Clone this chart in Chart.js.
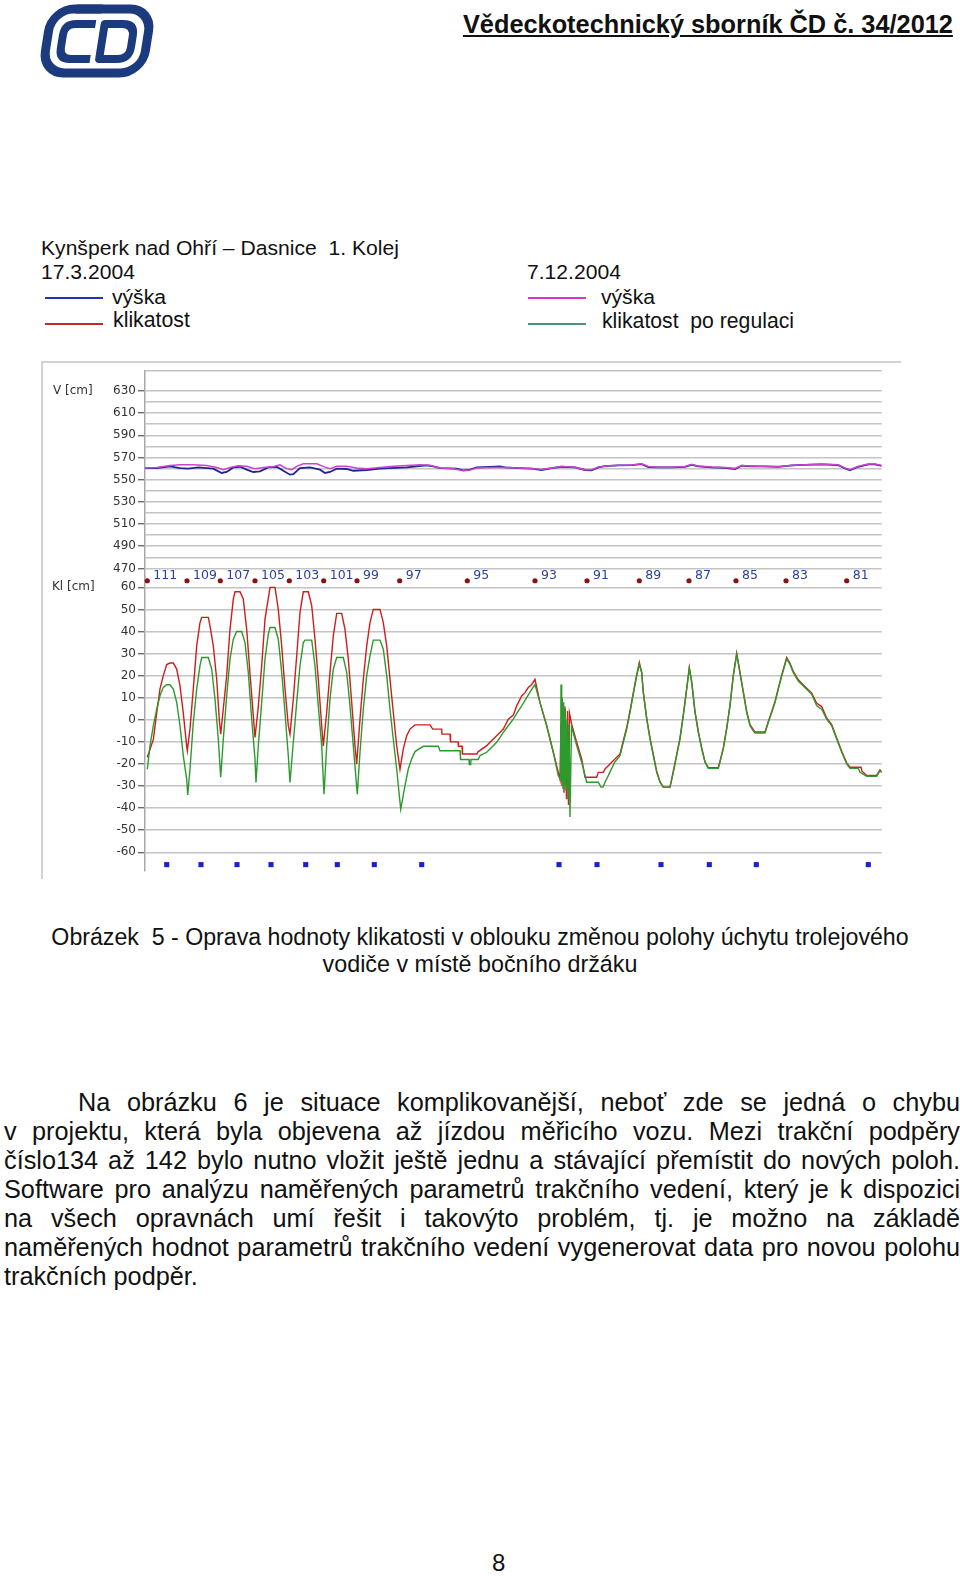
<!DOCTYPE html>
<html lang="cs">
<head>
<meta charset="utf-8">
<title>Oprava hodnoty klikatosti</title>
<script src="https://cdn.jsdelivr.net/npm/chart.js@4.4.1/dist/chart.umd.min.js"></script>
<style>
  body { margin: 0; background: #fff; }
  #stranka { position: relative; width: 960px; height: 1576px; overflow: hidden; font-family: 'Liberation Sans', Arial, sans-serif; color: #111; }
  .t { position: absolute; white-space: pre; line-height: 1; transform: translateY(-50%); }
  .car { position: absolute; height: 2px; width: 58px; }
  .odst { position: absolute; line-height: 1; transform: translateY(-50%); text-align: justify; text-align-last: justify; font-size: 25px; }
  #ramecek { position: absolute; left: 41px; top: 361px; width: 858px; height: 516px; border-top: 2px solid #d2d2d2; border-left: 2px solid #d2d2d2; }
  #graf { position: absolute; left: 40px; top: 355px; }
</style>
</head>
<body>
<div id="stranka">

  <svg style="position:absolute; left:38px; top:3px" width="120" height="76" viewBox="0 0 120 76">
    <g transform="translate(9,0) skewX(-9)" fill="none" stroke="#1c3a7e" stroke-linejoin="round">
      <rect x="6" y="6" width="100" height="64" rx="22" stroke-width="9"/>
      <path d="M52 21 H32 Q21 21 21 32 V45 Q21 56 32 56 H52" stroke-width="8"/>
      <path d="M61 21 H79 Q91 21 91 33 V44 Q91 56 79 56 H61 Z" stroke-width="8"/>
      <path d="M30 6 H56" stroke-width="9"/>
    </g>
  </svg>
  <div class="t" id="hlavicka" style="right:7px; top:24px; font-size:26px; font-weight:bold; text-decoration:underline; transform-origin:right center;">Vědeckotechnický sborník ČD č. 34/2012</div>

  <div class="t fit" data-w="358" style="left:41px; top:248px; font-size:21px;">Kynšperk nad Ohří – Dasnice  1. Kolej</div>
  <div class="t fit" data-w="94" style="left:41px; top:272px; font-size:21px;">17.3.2004</div>
  <div class="t fit" data-w="94" style="left:527px; top:272px; font-size:21px;">7.12.2004</div>

  <div class="car" style="left:45px; top:297px; background:#2233b0;"></div>
  <div class="t fit" data-w="54" style="left:112px; top:297px; font-size:21px;">výška</div>
  <div class="car" style="left:45px; top:323px; background:#c02a2a;"></div>
  <div class="t fit" data-w="77" style="left:113px; top:321px; font-size:21px;">klikatost</div>

  <div class="car" style="left:528px; top:297px; background:#d535d5;"></div>
  <div class="t fit" data-w="54" style="left:601px; top:297px; font-size:21px;">výška</div>
  <div class="car" style="left:528px; top:323px; background:#4d9279;"></div>
  <div class="t fit" data-w="192" style="left:602px; top:321px; font-size:21px;">klikatost  po regulaci</div>

  <div id="ramecek"></div>
  <canvas id="graf" width="860" height="525"></canvas>

  <div class="t fit stred" data-w="858" style="left:480px; top:938px; font-size:23px;">Obrázek  5 - Oprava hodnoty klikatosti v oblouku změnou polohy úchytu trolejového</div>
  <div class="t fit stred" data-w="315" style="left:480px; top:965px; font-size:23px;">vodiče v místě bočního držáku</div>

  <div class="odst" style="left:78px; width:882px; top:1103px;">Na obrázku 6 je situace komplikovanější, neboť zde se jedná o chybu</div>
  <div class="odst" style="left:4px; width:956px; top:1132px;">v&nbsp;projektu, která byla objevena až jízdou měřicího vozu. Mezi trakční podpěry</div>
  <div class="odst" style="left:4px; width:956px; top:1161px;">číslo134 až 142 bylo nutno vložit ještě jednu a stávající přemístit do nových poloh.</div>
  <div class="odst" style="left:4px; width:956px; top:1190px;">Software pro analýzu naměřených parametrů trakčního vedení, který je k&nbsp;dispozici</div>
  <div class="odst" style="left:4px; width:956px; top:1219px;">na&nbsp;všech opravnách umí řešit i takovýto problém, tj. je možno na základě</div>
  <div class="odst" style="left:4px; width:956px; top:1248px;">naměřených hodnot parametrů trakčního vedení vygenerovat data pro novou polohu</div>
  <div class="t" id="posledni" style="left:4px; top:1277px; font-size:25px;">trakčních podpěr.</div>

  <div class="t" style="left:492px; top:1563px; font-size:24px;">8</div>
</div>

<script>
// vzdálenost od podpěry 111 [m], hodnota [cm]
// výška trolejového drátu 17.3.2004
const vyskaBrezen = [
    [0, 560.4], [11.7, 560.4], [25, 562], [35, 560.4], [43.3, 559.9], [53.3, 561], [61.7, 560.4], [68.3, 559.9],
    [76.7, 556], [81.7, 556.9], [88.3, 561], [95, 561.6], [101.7, 559], [108.3, 556.9], [115, 557.5], [123.3, 561],
    [131.7, 561.6], [138.3, 558], [145, 554.5], [148.3, 555], [155, 560.4], [165, 561], [175, 559], [180, 556],
    [185, 556.9], [191.7, 559.9], [201.7, 559.6], [208.3, 558], [221.7, 558.7], [235, 559.9], [245, 560.4],
    [261.7, 561], [271.7, 562], [281.7, 562.8], [288.3, 562], [295, 560.4], [311.7, 559.9], [318.3, 558.4],
    [325, 559], [331.7, 561], [345, 561.6], [355, 562], [360, 561], [373.3, 560.4], [386.7, 559.9], [396.7, 558.7],
    [406.7, 560.4], [416.7, 561.6], [430, 561], [440, 558.7], [446.7, 558.4], [453.3, 561], [460, 562.2],
    [473.3, 562.8], [486.7, 563.1], [496.7, 564], [503.3, 561.3], [513.3, 561], [526.7, 561], [540, 561.6],
    [546.7, 563.4], [553.3, 562], [566.7, 561], [580, 560.7], [590, 559.6], [596.7, 562.5], [606.7, 562],
    [620, 561.9], [633.3, 561.6], [646.7, 562.8], [660, 563.4], [676.7, 563.7], [693.3, 563.1], [700, 560.1],
    [705, 558.4], [713.3, 561.6], [723.3, 563.7], [730, 563.7], [736.7, 562.5]
];
// výška trolejového drátu 7.12.2004
const vyskaProsinec = [
    [0, 560.4], [11.7, 561], [25, 562.8], [35, 563.4], [48.3, 563.4], [61.7, 562.8], [71.7, 561], [78.3, 559],
    [85, 561], [93.3, 562.5], [101.7, 562], [110, 559.9], [118.3, 561], [128.3, 561.6], [135, 563.4], [141.7, 559.9],
    [146.7, 559], [151.7, 562], [158.3, 564.3], [171.7, 564.3], [180, 561.3], [185, 559.9], [191.7, 562],
    [201.7, 562], [211.7, 560.4], [221.7, 559.9], [235, 561], [248.3, 562], [261.7, 562.8], [275, 563.4],
    [285, 563], [295, 560.4], [308.3, 559.9], [318.3, 558], [325, 558.7], [331.7, 560.4], [348.3, 561],
    [361.7, 561], [373.3, 560.6], [386.7, 560], [396.7, 559.2], [406.7, 560.6], [416.7, 561.8], [430, 561.2],
    [440, 559], [446.7, 558.9], [453.3, 561.3], [460, 562.2], [473.3, 563], [486.7, 563.1], [496.7, 564.3],
    [503.3, 561.8], [513.3, 561.2], [526.7, 561.2], [540, 561.8], [546.7, 563.6], [553.3, 562.2], [566.7, 561.3],
    [580, 561], [590, 560], [596.7, 562.8], [606.7, 562.2], [620, 561.9], [633.3, 561.8], [646.7, 562.8],
    [660, 563.4], [676.7, 564], [693.3, 563.4], [700, 560.4], [705, 559], [713.3, 562], [723.3, 564],
    [730, 564], [736.7, 562.8]
];
// klikatost 17.3.2004
const klikatostBrezen = [
    [2.3, -17], [8.3, -9], [11.7, 3], [15, 14], [18.3, 20], [21.7, 25], [25, 25.7], [28.3, 25.7], [31.7, 23],
    [35, 15.4], [38.3, 3], [41.7, -12], [42.3, -14],
    [45, -4], [48.3, 14], [51.7, 33.5], [55, 44], [56.7, 46.4], [63.3, 46.4], [65, 42.6], [68.3, 33.5],
    [71.7, 18.4], [74.3, 0], [75.7, -6.5],
    [78.3, 5], [81.7, 20], [85, 41], [88.3, 54.7], [90, 58], [95, 58], [98.3, 54.7], [101.7, 41], [105, 21],
    [108.3, 1.8], [110, -8],
    [113.3, 6], [116.7, 24.5], [120, 45.6], [125, 60], [130, 60], [133.3, 50], [136.7, 33.5], [140, 14],
    [143.3, -2.7], [145, -6.5],
    [148.3, 9.4], [151.7, 29], [155, 48.6], [158.3, 58], [163.3, 58], [166.7, 51.7], [170, 36.5], [173.3, 18.4],
    [176.7, -2.7], [178.3, -11.8],
    [181.7, 3.3], [185, 21.5], [188.3, 38], [191.7, 48.2], [196.7, 48.2], [200, 41], [203.3, 27.5], [206.7, 7.9],
    [210, -11.8], [211.7, -20],
    [215, 0.3], [218.3, 18.4], [221.7, 33.5], [225, 44], [228.3, 50], [235, 50], [238.3, 44], [241.7, 33.5],
    [245, 18.4], [248.3, 3.3], [251.7, -11.8], [255, -22.4],
    [258.3, -13.2], [261.7, -7.2], [265, -4.2], [270, -2.3], [285, -2.3], [287.7, -4.2], [296.7, -4.2],
    [297, -6.5], [305, -6.5], [305.5, -10], [313, -10], [313.5, -12], [317, -12], [317.5, -15.5], [332, -15.5],
    [333, -14.5], [341.7, -11.7], [345, -10.2], [351.7, -7.2], [358.3, -4.2], [363.3, 0.3], [368.3, 2.1],
    [371.7, 6.3], [376.7, 10.8], [380, 12.3], [383.3, 14.6], [386.7, 16], [390, 18.3], [395, 7.8],
    [401.7, -2.7], [408.3, -14.7], [413.3, -23.8],
    [415, -27], [416, -2], [417, -30], [418, 4], [419, -33], [420, 6], [421.5, -36], [422.5, 4], [423.5, -38.6],
    [424.5, 3], [426.7, -2], [431.7, -10.2], [436.7, -17.7], [440, -26], [451.7, -26], [453.3, -23.8],
    [458.3, -23.8], [460, -22.3], [463.3, -20.8], [466.7, -19.2], [470, -17.7], [475, -15.5],
    [478.3, -9.5], [481.7, -3.5], [485, 4], [488.3, 12.3], [491.7, 20.5], [494.3, 26], [496.7, 21.4],
    [498.3, 12.8], [501.7, 0.8], [505, -8.2], [508.3, -15.7], [511.7, -23.3], [515, -28], [518.3, -30.5],
    [525, -30.5], [528.3, -23.3], [531.7, -15.7], [535, -8.2], [538.3, 2.3], [541.7, 14.3], [544.3, 23.8],
    [546.7, 17.3], [550, 3.8], [553.3, -5.2], [556.7, -12.7], [560, -19], [563.3, -21.7], [573.3, -21.7],
    [575, -18.7], [578.3, -12.7], [581.7, -3.7], [585, 6.8], [588.3, 20.3], [591.7, 30.2], [594.3, 23.4],
    [598.3, 12.8], [601.7, 3.8], [605, -2.2], [608.3, -4.5], [610, -5.5], [620, -5.5], [623.3, -0.7],
    [626.7, 3.8], [630, 8.3], [633.3, 14.3], [636.7, 20.3], [641.7, 28.2], [645, 25.6], [648.3, 21.9],
    [653.3, 18.1], [658.3, 15.8], [661.7, 14.3], [666.7, 12.1], [671.7, 7.5], [676.7, 6], [681.7, 0.8],
    [686.7, -2.2], [691.7, -8.2], [696.7, -14.2], [701.7, -19.5], [705, -21.5], [716, -21.5], [717, -23.3],
    [721.7, -25.2], [731.7, -25.2], [735, -22.7], [736.7, -23.5]
];
// klikatost po regulaci 7.12.2004
const klikatostPoRegulaci = [
    [2.3, -22.4], [5, -11.8], [8.3, -2.7], [11.7, 4.8], [15, 10.9], [18.3, 14.7], [21.7, 15.9], [25, 15.9],
    [28.3, 13.9], [31.7, 7.9], [35, -2.7], [38.3, -16.3], [41.7, -27], [42.7, -34],
    [45, -22.4], [48.3, -1.2], [51.7, 13.9], [55, 24.5], [56.7, 28.2], [63.3, 28.2], [66.7, 23], [70, 9.4],
    [73.3, -8.8], [75.7, -26],
    [78.3, -8.8], [81.7, 10.9], [85, 27.5], [88.3, 36.5], [91.7, 40], [96.7, 40], [100, 35], [103.3, 21.5],
    [106.7, 0.3], [110, -17.8], [111, -28.4],
    [113.3, -11.8], [116.7, 7.9], [120, 27.5], [123.3, 38.8], [125, 41.8], [130, 41.8], [133.3, 36.5],
    [136.7, 21.5], [140, 3.3], [143.3, -16.3], [145, -28.4],
    [148.3, -10.3], [151.7, 7.9], [155, 24.5], [158.3, 35], [160, 36.1], [166.7, 36.1], [170, 24.5],
    [173.3, 6.3], [176.7, -11.8], [179, -33.7],
    [181.7, -11.8], [185, 9.4], [188.3, 23], [191.7, 28.2], [198.3, 28.2], [201.7, 21.5], [205, 6.3],
    [208.3, -11.8], [212.3, -33.7],
    [215, -14.8], [218.3, 4.8], [221.7, 20], [225, 29], [228.3, 36.1], [235, 36.1], [238.3, 32], [241.7, 20],
    [245, 4.8], [248.3, -8.8], [251.7, -22.4], [255.7, -40.5],
    [260, -29.8], [263.3, -22.3], [266.7, -17.7], [270, -14.4], [278.3, -12], [293.3, -12], [295, -14],
    [315, -14], [315.5, -18], [324, -18], [324.3, -20.3], [325.7, -20.3], [326, -18], [333.3, -18],
    [335, -16.2], [341.7, -14.7], [345, -13.2], [351.7, -10.2], [358.3, -5.7], [363.3, -2.7], [368.3, 0.3],
    [373.3, 4], [376.7, 6.3], [381.7, 10], [386.7, 13.8], [390, 16], [395, 7.8], [401.7, -2.7],
    [408.3, -14.7], [413.3, -25.3],
    [415.5, -27], [416, 16], [416.7, -28], [417.3, 10], [418, -31], [418.7, 8], [419.5, -30], [420.2, 5],
    [421, -32], [422, 0], [423, -36], [424, -2], [425, -44], [426.5, -3], [431.7, -11.7], [436.7, -19.2],
    [441.7, -28.3], [453.3, -28.3], [456, -30.5], [458, -30.5], [460, -28.3], [463.3, -25.3], [466.7, -22],
    [470, -19], [475, -16.2],
    [478.3, -10.2], [481.7, -4.2], [485, 3.3], [488.3, 11.6], [491.7, 19.8], [494.3, 25.1], [496.7, 21.4],
    [498.3, 12.3], [501.7, 0.3], [505, -8.7], [508.3, -16.2], [511.7, -23.8], [515, -28.3], [518.3, -30.5],
    [525, -30.5], [528.3, -23.8], [531.7, -16.2], [535, -8.7], [538.3, 1.8], [541.7, 13.8], [544.3, 23.2],
    [546.7, 16.8], [550, 3.3], [553.3, -5.7], [556.7, -13.2], [560, -19.2], [563.3, -22], [573.3, -22],
    [575, -19.2], [578.3, -13.2], [581.7, -4.2], [585, 6.3], [588.3, 19.8], [591.7, 29.6], [594.3, 22.9],
    [598.3, 12.3], [601.7, 3.3], [605, -2.7], [608.3, -5], [610, -6], [620, -6], [623.3, -1.2], [626.7, 3.3],
    [630, 7.8], [633.3, 13.8], [636.7, 19.8], [641.7, 27.7], [645, 25.1], [648.3, 21.4], [653.3, 17.6],
    [658.3, 15.3], [661.7, 13.8], [666.7, 11.6], [671.7, 6.3], [676.7, 4.8], [681.7, 0.3], [686.7, -2.7],
    [691.7, -8.7], [696.7, -14.7], [701.7, -20], [705, -22], [713.3, -22], [715, -23.8], [721.7, -25.6],
    [731.7, -25.6], [735, -23], [736.7, -24]
];
// čísla podpěr a jejich poloha
const podpery = [111, 109, 107, 105, 103, 101, 99, 97, 95, 93, 91, 89, 87, 85, 83, 81];
const polohaPodper = [2.3, 42, 75.3, 110, 144.3, 178.7, 212, 254.7, 322.3, 390, 442, 494.3, 544, 591, 641, 701.7];
// značky (modré čtverečky) pod grafem
const polohaZnacek = [21.7, 56, 92, 126, 160.7, 192.3, 229.3, 276.7, 414, 452, 516, 564.3, 611.3, 723.3];
// popisy os
const vTicky = [630, 610, 590, 570, 550, 530, 510, 490, 470];
const vMrizka = [620, 600, 580, 560, 540, 520, 500, 480];
const klTicky = [60, 50, 40, 30, 20, 10, 0, -10, -20, -30, -40, -50, -60];

function body(pole) {
    return pole.map(function (p) { return { x: p[0], y: p[1] }; });
}

//Popisky podpěr a názvy os
const popisky = {
    id: 'popisky',
    afterDatasetsDraw(chart) {
        const ctx = chart.ctx;
        const meta = chart.getDatasetMeta(4);
        ctx.save();
        ctx.font = '12.5px "DejaVu Sans"';
        ctx.fillStyle = '#2b3f9e';
        ctx.textBaseline = 'middle';
        ctx.textAlign = 'left';
        meta.data.forEach(function (bod, i) {
            ctx.fillText(String(podpery[i]), bod.x + 6, bod.y - 4.5);
        });
        ctx.fillStyle = '#333';
        ctx.font = '12px "DejaVu Sans"';
        ctx.fillText('V [cm]', 13, chart.scales.yV.getPixelForValue(630));
        ctx.fillText('Kl [cm]', 12, chart.scales.yK.getPixelForValue(60));
        ctx.restore();
    }
};

const ctx = document.getElementById('graf');
new Chart(ctx, {
    type: 'line',
    data: {
        datasets: [{
            label: 'výška 17.3.2004',
            data: body(vyskaBrezen),
            yAxisID: 'yV',
            borderColor: '#222296',
            borderWidth: 1.8,
            pointRadius: 0,
            order: 3
        }, {
            label: 'výška 7.12.2004',
            data: body(vyskaProsinec),
            yAxisID: 'yV',
            borderColor: '#cc44cc',
            borderWidth: 1.5,
            pointRadius: 0,
            order: 2
        }, {
            label: 'klikatost 17.3.2004',
            data: body(klikatostBrezen),
            yAxisID: 'yK',
            borderColor: '#d01c1c',
            borderWidth: 1.4,
            pointRadius: 0,
            order: 3
        }, {
            label: 'klikatost po regulaci',
            data: body(klikatostPoRegulaci),
            yAxisID: 'yK',
            borderColor: '#2c9a2c',
            borderWidth: 1.4,
            pointRadius: 0,
            order: 2
        }, {
            label: 'podpěry',
            data: polohaPodper.map(function (x) { return { x: x, y: 63 }; }),
            yAxisID: 'yK',
            showLine: false,
            pointRadius: 2.6,
            pointBackgroundColor: '#8a1212',
            pointBorderWidth: 0,
            clip: false,
            order: 0
        }, {
            label: 'značky',
            data: polohaZnacek.map(function (x) { return { x: x, y: -65.6 }; }),
            yAxisID: 'yK',
            showLine: false,
            pointStyle: 'rect',
            pointRadius: 3.6,
            pointBackgroundColor: '#1d1ddd',
            pointBorderWidth: 0,
            clip: false,
            order: 0
        }]
    },
    options: {
        responsive: false,
        animation: false,
        events: [],
        layout: {
            padding: { left: 45, right: 18.3, top: 16, bottom: 7 }
        },
        scales: {
            x: {
                type: 'linear',
                display: false,
                min: 0,
                max: 736.7
            },
            yV: {
                type: 'linear',
                position: 'left',
                stack: 'osa',
                stackWeight: 207,
                weight: 1,
                min: 462.2,
                max: 647.9,
                afterBuildTicks: function (osa) {
                    osa.ticks = [647.9].concat(vTicky, vMrizka).map(function (v) { return { value: v }; });
                },
                afterFit: function (osa) { osa.width = 60; },
                ticks: {
                    autoSkip: false,
                    padding: 2,
                    color: '#333',
                    font: { size: 12, family: 'DejaVu Sans' },
                    callback: function (v) { return vTicky.includes(v) ? String(v) : ''; }
                },
                grid: {
                    color: '#c4c4c4',
                    lineWidth: 1.5,
                    tickLength: 7,
                    tickWidth: 1.2,
                    tickColor: function (c) { return c.tick && vTicky.includes(c.tick.value) ? '#555' : 'rgba(0,0,0,0)'; }
                },
                border: { color: '#a8a8a8', width: 1.5 }
            },
            yK: {
                type: 'linear',
                position: 'left',
                stack: 'osa',
                stackWeight: 295,
                weight: 0,
                min: -68.4,
                max: 64.65,
                afterBuildTicks: function (osa) {
                    osa.ticks = klTicky.map(function (v) { return { value: v }; });
                },
                afterFit: function (osa) { osa.width = 60; },
                ticks: {
                    autoSkip: false,
                    padding: 2,
                    color: '#333',
                    font: { size: 12, family: 'DejaVu Sans' },
                    callback: function (v) { return String(v); }
                },
                grid: {
                    color: '#c4c4c4',
                    lineWidth: 1.5,
                    tickLength: 7,
                    tickWidth: 1.2,
                    tickColor: '#555'
                },
                border: { color: '#a8a8a8', width: 1.5 }
            }
        },
        plugins: {
            legend: { display: false },
            tooltip: { enabled: false }
        }
    },
    plugins: [popisky]
});

// velikost písma podle šířky textu
function prizpusobit(el, sirka) {
    var w = el.getBoundingClientRect().width;
    var f = parseFloat(getComputedStyle(el).fontSize);
    el.style.fontSize = (f * sirka / w) + 'px';
}
document.querySelectorAll('.fit').forEach(function (el) {
    prizpusobit(el, parseFloat(el.dataset.w));
    if (el.classList.contains('stred')) {
        el.style.transform = 'translate(-50%, -50%)';
    }
});
prizpusobit(document.getElementById('posledni'), 194);
var velikost = document.getElementById('posledni').style.fontSize;
document.querySelectorAll('.odst').forEach(function (el) { el.style.fontSize = velikost; });

var hl = document.getElementById('hlavicka');
var k = 490 / hl.getBoundingClientRect().width;
hl.style.transform = 'translateY(-50%) scaleX(' + k + ')';
</script>
</body>
</html>
